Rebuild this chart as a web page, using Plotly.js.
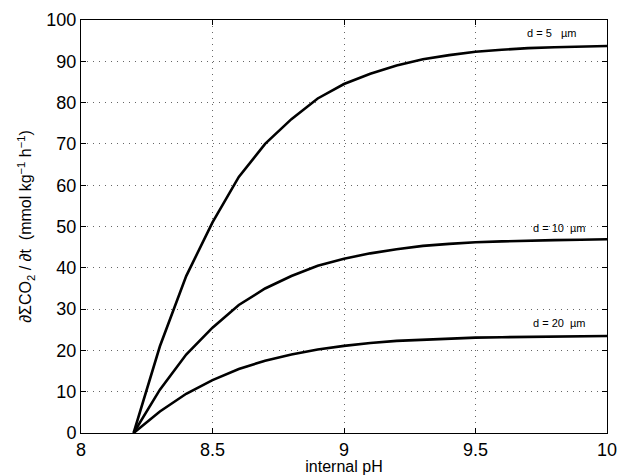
<!DOCTYPE html>
<html>
<head>
<meta charset="utf-8">
<script src="https://cdn.plot.ly/plotly-3.0.1.min.js"></script>
<style>html,body{margin:0;padding:0;background:#fff}#chart{width:619px;height:475px}</style>
</head>
<body>
<div id="chart"></div>
<script>
// Internal pH grid shared by all three curves
const pH = [8.2, 8.3, 8.4, 8.5, 8.6, 8.7, 8.8, 8.9, 9.0, 9.1, 9.2, 9.3, 9.4, 9.5, 9.6, 9.7, 9.8, 9.9, 10.0];

// Uptake rate for each boundary-layer thickness d
const rateD5  = [0, 21, 38, 51, 62, 70, 76, 81, 84.5, 87, 89, 90.5, 91.5, 92.3, 92.8, 93.2, 93.4, 93.6, 93.7];
const rateD10 = [0, 10.5, 19, 25.5, 31, 35, 38, 40.5, 42.2, 43.5, 44.5, 45.3, 45.8, 46.2, 46.4, 46.6, 46.7, 46.8, 46.9];
const rateD20 = [0, 5.2, 9.5, 12.8, 15.5, 17.5, 19, 20.2, 21.1, 21.8, 22.3, 22.6, 22.9, 23.1, 23.2, 23.3, 23.4, 23.4, 23.5];

const curveLabels = ['d = 5   µm', 'd = 10  µm', 'd = 20  µm'];
const labelX = [9.79, 9.82, 9.82];
const labelY = [96.9, 49.6, 26.6];

const font = 'Liberation Sans, Arial, sans-serif';

const series = [rateD5, rateD10, rateD20];
const traces = series.map((y, i) => ({
  x: pH, y: y, type: 'scatter', mode: 'lines',
  line: {color: '#000', width: 2.6},
  name: curveLabels[i], showlegend: false, hoverinfo: 'skip'
}));

const axisBase = {
  showline: true, linecolor: '#000', linewidth: 1, mirror: 'allticks',
  ticks: 'inside', ticklen: 5, tickcolor: '#000',
  showgrid: true, gridcolor: '#666', griddash: '1px,5px', gridwidth: 1,
  zeroline: false,
  tickfont: {family: font, size: 18, color: '#000'}
};

const layout = {
  width: 619, height: 475,
  margin: {l: 81, r: 12, t: 20, b: 42},
  paper_bgcolor: '#fff', plot_bgcolor: '#fff',
  xaxis: Object.assign({}, axisBase, {
    range: [8, 10], tickvals: [8, 8.5, 9, 9.5, 10], ticktext: ['8', '8.5', '9', '9.5', '10'],
    title: {text: 'internal pH', standoff: 2, font: {family: font, size: 16, color: '#000'}}
  }),
  yaxis: Object.assign({}, axisBase, {
    range: [0, 100], dtick: 10,
    title: {text: '∂ΣCO<sub>2</sub> / ∂t  (mmol kg<sup>−1</sup> h<sup>−1</sup>)', standoff: 10,
            font: {family: font, size: 16, color: '#000'}}
  }),
  annotations: curveLabels.map((t, i) => ({
    x: labelX[i], y: labelY[i], xref: 'x', yref: 'y', text: t, showarrow: false,
    font: {family: font, size: 11, color: '#000'}
  }))
};

Plotly.newPlot('chart', traces, layout, {displayModeBar: false, staticPlot: true});
</script>
</body>
</html>
